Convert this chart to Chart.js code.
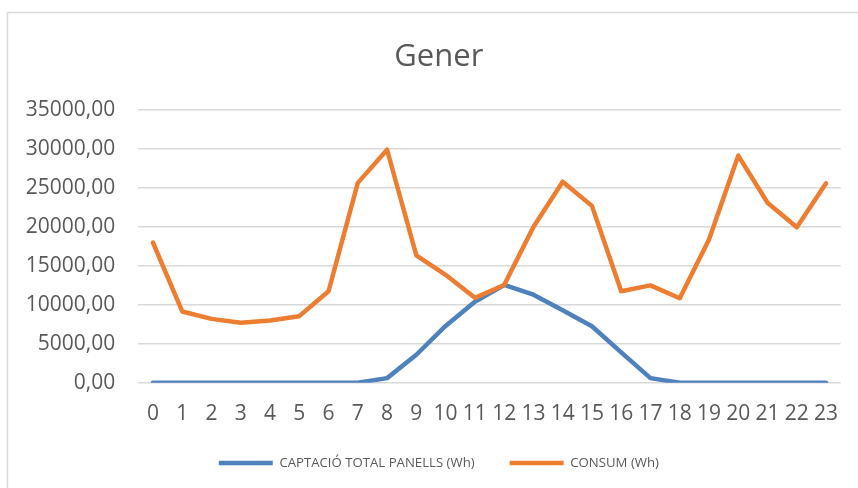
<!DOCTYPE html>
<html>
<head>
<meta charset="utf-8">
<script src="https://cdn.jsdelivr.net/npm/chart.js@4/dist/chart.umd.min.js"></script>
<style>
  html, body { margin: 0; padding: 0; background: #fff; }
  #wrap { width: 858px; height: 488px; position: relative; }
</style>
</head>
<body>
<div id="wrap"><canvas id="chart"></canvas></div>
<script>
const hours = ['0','1','2','3','4','5','6','7','8','9','10','11','12','13','14','15','16','17','18','19','20','21','22','23'];
const captacio = [0, 0, 0, 0, 0, 0, 0, 0, 600, 3600, 7300, 10400, 12550, 11300, 9300, 7250, 3900, 600, 0, 0, 0, 0, 0, 0];
const consum = [18000, 9150, 8200, 7700, 8000, 8550, 11750, 25650, 29900, 16350, 13850, 10900, 12550, 20000, 25800, 22700, 11750, 12500, 10850, 18400, 29150, 23100, 19950, 25600];
const yMax = 35000;
const yStep = 5000;

const textColor = '#595959';
const gridColor = '#d9d9d9';

// light frame like the Excel chart area border
const framePlugin = {
    id: 'frame',
    beforeDraw(chart) {
        const ctx = chart.ctx;
        ctx.save();
        ctx.fillStyle = '#fff';
        ctx.fillRect(0, 0, chart.width, chart.height);
        ctx.strokeStyle = gridColor;
        ctx.lineWidth = 1.5;
        ctx.strokeRect(7.5, 12.5, chart.width + 20, chart.height + 20);
        ctx.restore();
    }
};

// the original frame is wider than the window: centre title and legend a bit to the right
const shiftPlugin = {
    id: 'shift',
    afterLayout(chart) {
        chart.titleBlock.left += 22;
        chart.legend.left += 22;
    }
};

new Chart(document.getElementById('chart'), {
    type: 'line',
    data: {
        labels: hours,
        datasets: [
            {
                label: 'CAPTACIÓ TOTAL PANELLS (Wh)',
                data: captacio,
                borderColor: '#4f81bd',
                backgroundColor: '#4f81bd',
                borderWidth: 4.5,
                borderCapStyle: 'round',
                borderJoinStyle: 'round',
                pointRadius: 0,
                tension: 0,
                order: 1
            },
            {
                label: 'CONSUM (Wh)',
                data: consum,
                borderColor: '#ed7d31',
                backgroundColor: '#ed7d31',
                borderWidth: 4.5,
                borderCapStyle: 'round',
                borderJoinStyle: 'round',
                pointRadius: 0,
                tension: 0,
                order: 0
            }
        ]
    },
    options: {
        responsive: true,
        maintainAspectRatio: false,
        animation: false,
        layout: { padding: { left: 15, right: 17.3, top: 0, bottom: 8.5 } },
        plugins: {
            title: {
                display: true,
                text: 'Gener',
                color: textColor,
                font: { family: 'Open Sans', size: 31, weight: 'normal', lineHeight: 1.2 },
                padding: { top: 39, bottom: 33.8 }
            },
            legend: {
                position: 'bottom',
                labels: {
                    usePointStyle: true,
                    pointStyle: 'line',
                    pointStyleWidth: 54,
                    padding: 35,
                    color: textColor,
                    font: { family: 'Open Sans', size: 13.2 },
                    sort: (a, b) => a.datasetIndex - b.datasetIndex
                }
            },
            tooltip: { enabled: false }
        },
        scales: {
            x: {
                offset: true,
                grid: { display: false, drawTicks: false },
                border: { display: false },
                ticks: {
                    color: textColor,
                    padding: 19,
                    maxRotation: 0,
                    autoSkip: false,
                    font: { family: 'Open Sans', size: 21 }
                },
                afterFit(scale) { scale.height = 38.5; }
            },
            y: {
                min: 0,
                max: yMax,
                grid: { color: gridColor, lineWidth: 1.5, drawTicks: false },
                border: { display: false },
                ticks: {
                    stepSize: yStep,
                    color: textColor,
                    padding: 23,
                    font: { family: 'Open Sans', size: 21 },
                    callback: (v) => v.toFixed(2).replace('.', ',')
                },
                afterFit(scale) { scale.width = 123.3; }
            }
        }
    },
    plugins: [framePlugin, shiftPlugin]
});
</script>
</body>
</html>
